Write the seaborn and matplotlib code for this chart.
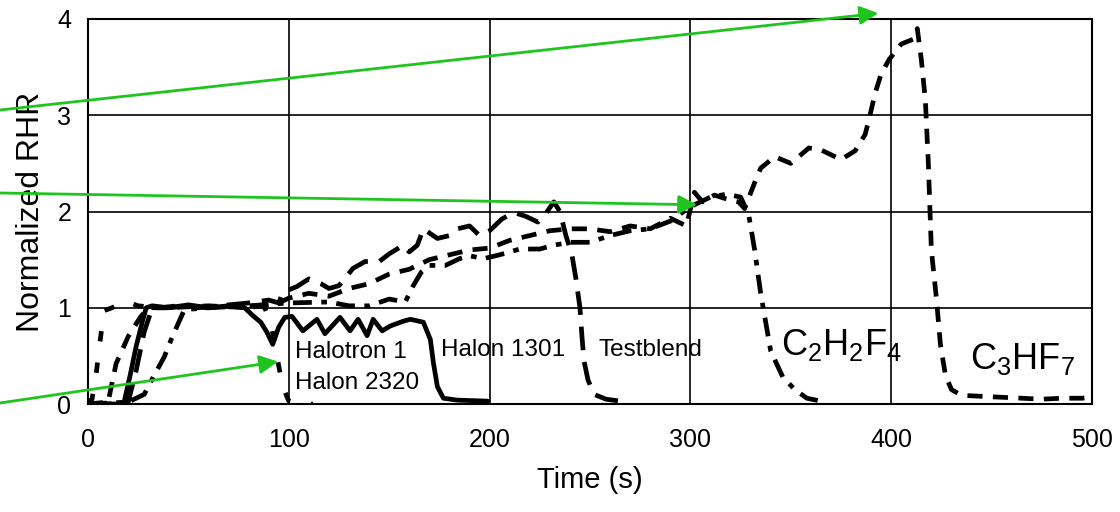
import numpy as np
import pandas as pd
import matplotlib
matplotlib.use("Agg")
import matplotlib.pyplot as plt
import seaborn as sns

# ---------------- data ----------------
t_halotron = [0, 2, 4, 6, 8, 12, 18, 25, 35, 45, 55, 65, 75, 82, 88, 91, 94, 97, 100, 105, 112]
y_halotron = [0.02, 0.05, 0.3, 0.65, 0.97, 1.0, 1.07, 1.02, 1.0, 1.02, 1.0, 1.03, 1.01, 1.05, 1.0,
              0.85, 0.5, 0.18, 0.03, 0.0, 0.0]

t_h1301 = [0, 5, 10, 15, 18, 21, 24, 27, 29, 32, 40, 50, 60, 70, 78, 82, 86, 89, 92, 95, 98,
           101.6, 107, 114, 118, 125.5, 130.5, 134.5, 139, 142, 146.5, 150.5, 157, 160.5, 167,
           170.5, 172, 174, 177, 184, 199]
y_h1301 = [0.02, 0.0, 0.0, 0.0, 0.02, 0.3, 0.6, 0.85, 1.0, 1.02, 1.0, 1.03, 1.0, 1.02, 1.0, 0.92,
           0.85, 0.75, 0.62, 0.8, 0.9, 0.91, 0.76, 0.88, 0.73, 0.9, 0.76, 0.88, 0.71, 0.88, 0.76,
           0.81, 0.86, 0.88, 0.85, 0.67, 0.43, 0.18, 0.06, 0.04, 0.03]

t_testblend = [0, 10, 20, 24, 28, 32, 40, 50, 60, 70, 80, 90, 95, 97, 104, 110, 116, 120, 125, 132,
               138, 145, 150, 157, 160, 164, 167, 174, 180, 184, 190, 195, 200, 206, 212, 218, 224,
               228, 232, 235, 238, 241, 243, 245, 246, 247, 249, 252, 258, 265]
y_testblend = [0, 0.0, 0.02, 0.35, 0.75, 1.0, 1.0, 1.02, 1.0, 1.03, 1.05, 1.08, 1.05, 1.16, 1.22,
               1.3, 1.25, 1.2, 1.23, 1.41, 1.48, 1.48, 1.56, 1.65, 1.58, 1.65, 1.82, 1.72, 1.75,
               1.82, 1.85, 1.75, 1.8, 1.92, 1.99, 1.95, 1.89, 1.98, 2.1, 2.0, 1.75, 1.55, 1.3, 1.0,
               0.7, 0.45, 0.25, 0.1, 0.05, 0.03]

t_c2h2f4 = [0, 20, 28, 33, 38, 42, 48, 60, 80, 100, 120, 130, 140, 150, 158, 162, 166, 170, 178,
            185, 190, 197, 205, 215, 225, 232, 240, 250, 260, 270, 280, 290, 300, 310, 318, 325,
            329, 332, 335, 340, 346, 352, 358, 365]
y_c2h2f4 = [0, 0.02, 0.1, 0.3, 0.49, 0.7, 0.98, 1.0, 1.02, 1.05, 1.06, 1.02, 1.02, 1.09, 1.06,
            1.23, 1.37, 1.44, 1.44, 1.51, 1.54, 1.51, 1.55, 1.61, 1.61, 1.65, 1.68, 1.68, 1.75,
            1.8, 1.82, 1.9, 2.05, 2.15, 2.18, 2.15, 1.97, 1.6, 1.15, 0.55, 0.28, 0.15, 0.06, 0.03]

t_c3hf7 = [0, 10, 14, 20, 26, 30, 40, 60, 80, 95, 100, 110, 120, 130, 140, 150, 160, 170, 180,
           190, 200, 210, 220, 230, 240, 250, 260, 270, 280, 290, 298, 302, 306, 312, 318, 324,
           327, 332, 335, 342, 350, 359, 365, 375, 382, 387, 389, 392, 395, 399, 405, 411, 413,
           415, 417, 418.5, 420, 422.5, 424.5, 427, 430, 435, 445, 455, 465, 475, 485, 495, 500]
y_c3hf7 = [0, 0.02, 0.42, 0.7, 0.9, 1.0, 1.0, 1.02, 1.0, 1.05, 1.1, 1.15, 1.12, 1.2, 1.25, 1.35,
           1.4, 1.5, 1.55, 1.6, 1.62, 1.7, 1.75, 1.8, 1.82, 1.82, 1.79, 1.85, 1.82, 1.93, 1.85,
           2.2, 2.1, 2.17, 2.13, 2.1, 2.03, 2.3, 2.45, 2.57, 2.5, 2.66, 2.64, 2.54, 2.63, 2.8,
           2.96, 3.23, 3.43, 3.58, 3.74, 3.79, 3.9, 3.58, 3.16, 2.5, 1.6, 1.1, 0.62, 0.3, 0.15,
           0.09, 0.08, 0.07, 0.06, 0.05, 0.06, 0.06, 0.07]

x_ticks = [0, 100, 200, 300, 400, 500]
y_ticks = [0, 1, 2, 3, 4]
x_label = "Time (s)"
y_label = "Normalized RHR"

labels_small = ["Halotron 1", "Halon 2320", "Halon 1301", "Testblend"]
labels_small_x = [103, 103, 176, 254]
labels_small_y = [0.54, 0.22, 0.56, 0.56]
labels_big = [r"$\mathregular{C_2H_2F_4}$", r"$\mathregular{C_3HF_7}$"]
labels_big_x = [345, 439]
labels_big_y = [0.51, 0.36]

# arrow heads (data) and tails (figure pixels from the top-left)
arrow_head_x = [393.6, 303.4, 94.7]
arrow_head_y = [4.06, 2.07, 0.44]
arrow_tail_py = [110, 193, 403]

# ---------------- figure ----------------
sns.set_theme(style="white")
plt.rcParams["font.family"] = ["Liberation Sans", "DejaVu Sans"]
plt.rcParams["mathtext.fontset"] = "custom"
plt.rcParams["mathtext.rm"] = "Liberation Sans"

W, H = 1120, 512
fig = plt.figure(figsize=(W / 100, H / 100), dpi=100)
ax = fig.add_axes([88 / W, 1 - 404 / H, (1092 - 88) / W, (404 - 19) / H])

series = [
    (t_halotron, y_halotron, (0, (2.2, 4.5))),
    (t_h1301, y_h1301, "solid"),
    (t_testblend, y_testblend, (0, (5, 2.5))),
    (t_c2h2f4, y_c2h2f4, (0, (4, 2, 1.2, 2))),
    (t_c3hf7, y_c3hf7, (0, (3.2, 2.2))),
]
for tx, ty, ls in series:
    df = pd.DataFrame({"t": tx, "y": ty})
    sns.lineplot(data=df, x="t", y="y", ax=ax, color="black", lw=3.4,
                 estimator=None, sort=False, linestyle=ls)

ax.set_xlim(0, 500)
ax.set_ylim(0, 4)
ax.set_xticks(x_ticks)
ax.set_yticks(y_ticks)
ax.grid(True, color="black", lw=1.2)
ax.set_axisbelow(True)
for s in ax.spines.values():
    s.set_color("black")
    s.set_linewidth(1.5)
ax.tick_params(axis="both", length=0, labelsize=18, colors="black")
ax.tick_params(axis="x", pad=17)
ax.tick_params(axis="y", pad=12)
ax.set_xlabel(x_label, fontsize=21, color="black", labelpad=10)
ax.set_ylabel(y_label, fontsize=23, color="black", labelpad=8)

for s, x, y in zip(labels_small, labels_small_x, labels_small_y):
    ax.text(x, y, s, fontsize=17.5, color="black", va="center", ha="left")
for s, x, y in zip(labels_big, labels_big_x, labels_big_y):
    ax.text(x, y, s, fontsize=26, color="black", va="baseline", ha="left")

green = "#1fc41f"
for hx, hy, ty in zip(arrow_head_x, arrow_head_y, arrow_tail_py):
    ax.annotate("", xy=(hx, hy), xycoords="data",
                xytext=(0, H - ty), textcoords="figure pixels",
                annotation_clip=False,
                arrowprops=dict(arrowstyle="-|>", color=green, lw=2,
                                mutation_scale=28, shrinkA=0, shrinkB=0))

fig.savefig("out.png", dpi=100)
